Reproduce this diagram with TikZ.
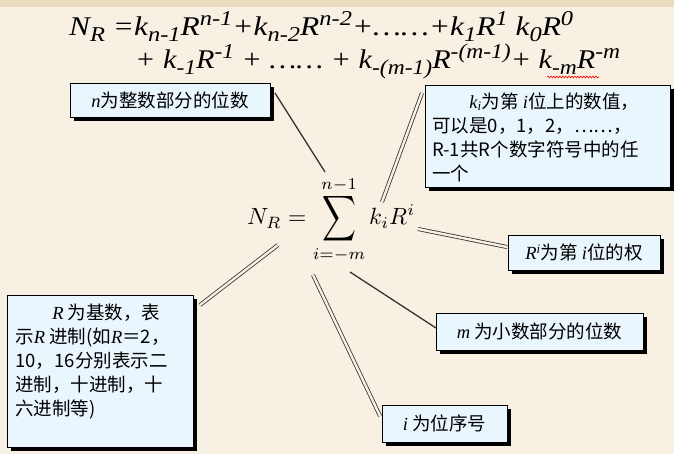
\documentclass[tikz,border=0pt]{standalone}
\usepackage[no-math]{fontspec}
\usepackage{graphicx}
\setmainfont{Liberation Serif}
\newfontfamily\cjk{Noto Sans CJK SC}
\newfontfamily\tim{Liberation Serif}
\usetikzlibrary{shadows,decorations.pathmorphing}
\definecolor{bg}{HTML}{F8F1E3}
\definecolor{band}{HTML}{E8DBC0}
\definecolor{boxfill}{HTML}{EAF6FD}
\definecolor{lin}{HTML}{333333}
\newcommand\itx[1]{{\tim\itshape #1}}
\newcommand\lo[1]{\textsubscript{#1}}
\newcommand\hi[1]{\textsuperscript{#1}}
\newcommand\flo[1]{\raisebox{-0.2em}{\scalebox{0.78}{#1}}}
\newcommand\fhi[1]{\raisebox{0.4em}{\scalebox{0.78}{#1}}}
\begin{document}
\begin{tikzpicture}[x=1pt,y=-1pt,
  box/.style={draw=black, line width=0.9pt, fill=boxfill, inner sep=0pt,
    general shadow={fill=black, shadow xshift=4pt, shadow yshift=-4pt},
    font=\cjk\fontsize{18.5}{24}\selectfont},
  formula/.style={inner sep=0pt, anchor=base west, font=\tim\itshape\fontsize{27}{30}\selectfont},
  single/.style={draw=lin, line width=1.3pt},
  dbl/.style={draw=lin, double=bg, double distance=2.4pt, line width=0.8pt}]
\useasboundingbox (0,0) rectangle (674,454);
\fill[bg] (0,0) rectangle (674,454);
\fill[band] (0,0) rectangle (674,7);

% top formula
\node[formula] (f1) at (69,36) {\resizebox{504pt}{\height}{N\flo{R} =k\flo{n-1}R\fhi{n-1}+k\flo{n-2}R\fhi{n-2}+……+k\flo{1}R\fhi{1} k\flo{0}R\fhi{0}}};
\node[formula] (f2) at (135,69) {\resizebox{485pt}{\height}{+ k\flo{-1}R\fhi{-1} + …… + k\flo{-(m-1)}R\fhi{-(m-1)}+ k\flo{-m}R\fhi{-m}}};
\coordinate (sqA) at (547,77);
\coordinate (sqB) at (599,77);
\draw[red, line width=0.6pt, decorate, decoration={snake, segment length=3pt, amplitude=0.9pt}] (sqA) -- (sqB);

% central formula
\node[inner sep=0pt, anchor=base west] (sum) at (247,225)
  {\scalebox{2.35}{$\displaystyle N_R = \mathop{\vcenter{\hbox{\scalebox{1}[1.35]{$\displaystyle\sum$}}}}\limits_{i=-m}^{n-1} k_iR^i$}};

% boxes
\node[box, minimum width=200pt, minimum height=34pt] (nbox) at (170,100)
  {\itx{n}为整数部分的位数};
\node[box, anchor=north west, inner xsep=7pt, inner ysep=7pt] (kbox) at (425,85)
  {\parbox[c][88pt][t]{231pt}{\raggedright\hspace*{2em}\itx{k}\lo{\itx{i}}为第 \itx{i}位上的数值，\\
   可以是0，1，2，……，\\
   R-1共R个数字符号中的任\\
   一个}};
\node[box, minimum width=152pt, minimum height=35pt] (rbox) at (584,252.5)
  {\itx{R}\hi{\itx{i}}为第 \itx{i}位的权};
\node[box, anchor=north west, inner xsep=8pt, inner ysep=8pt] (Rbox) at (7,295)
  {\parbox[c][136pt][t]{170pt}{\raggedright\hspace*{2em}\itx{R} 为基数，表\\
   示\itx{R} 进制(如\itx{R}＝2，\\
   10，16分别表示二\\
   进制，十进制，十\\
   六进制等)}};
\node[box, minimum width=207pt, minimum height=37pt] (mbox) at (539.5,331.5)
  {\itx{m} 为小数部分的位数};
\node[box, minimum width=125pt, minimum height=37pt] (ibox) at (444.5,423.5)
  {\itx{i} 为位序号};

% connector ends
\coordinate (nA) at (275,93);   \coordinate (nB) at (325,172);
\coordinate (kA) at (422,93);   \coordinate (kB) at (382,202);
\coordinate (rA) at (418,229);  \coordinate (rB) at (507,247);
\coordinate (RA) at (278,245);  \coordinate (RB) at (200,305);
\coordinate (iA) at (313,275);  \coordinate (iB) at (380,416);
\coordinate (mA) at (350,272);  \coordinate (mB) at (436,328);

\draw[single] (nA) -- (nB);
\draw[dbl] (kA) -- (kB);
\draw[dbl] (rA) -- (rB);
\draw[dbl] (RA) -- (RB);
\draw[dbl] (iA) -- (iB);
\draw[single] (mA) -- (mB);
\end{tikzpicture}
\end{document}
